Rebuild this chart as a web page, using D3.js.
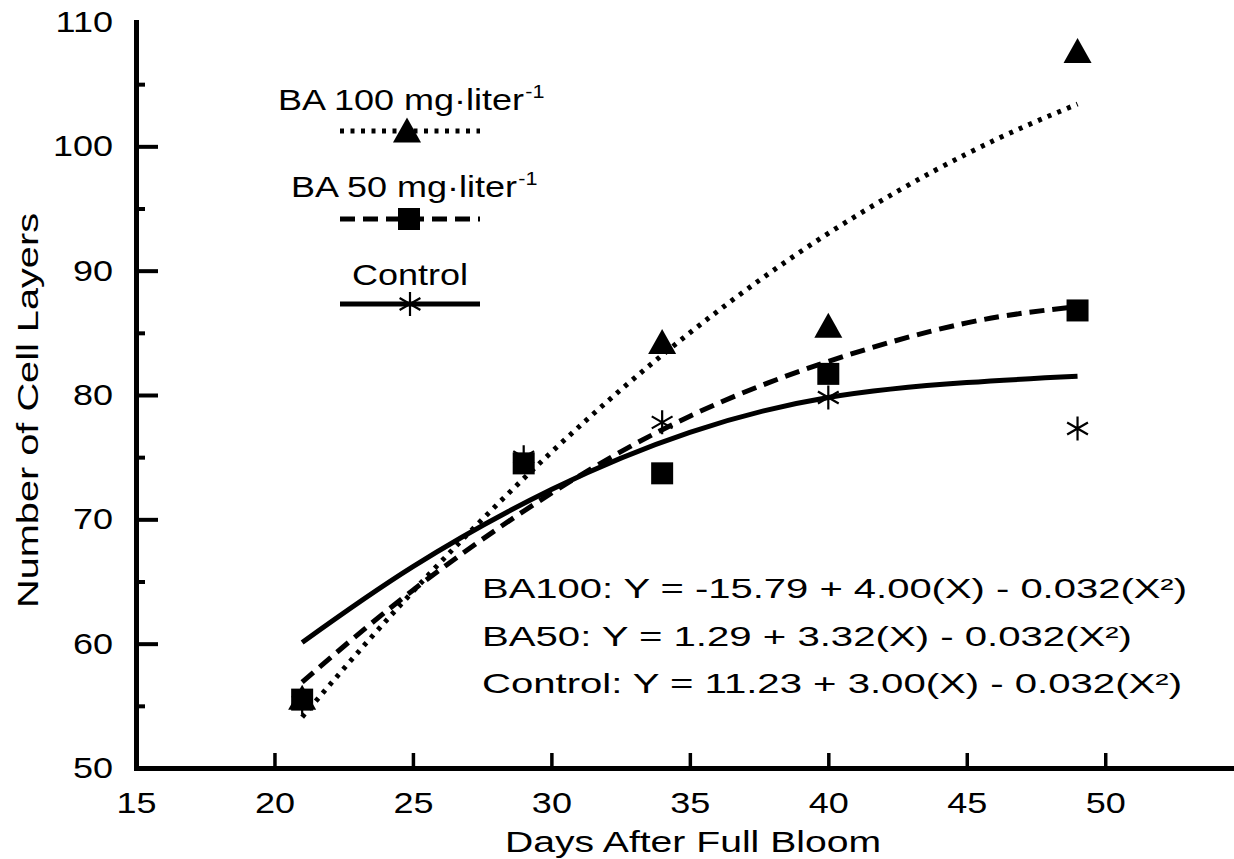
<!DOCTYPE html>
<html>
<head>
<meta charset="utf-8">
<script src="https://cdn.jsdelivr.net/npm/d3@7"></script>
<style>
  body { margin: 0; background: #fff; }
  svg { display: block; font-family: "Liberation Sans", Arial, sans-serif; }
</style>
</head>
<body>
<svg id="chart" width="1234" height="859"></svg>
<script>
// Observed points (days after full bloom, number of cell layers)
const ba100Days = [21, 34, 40, 49];
const ba100Layers = [55.7, 84.3, 85.6, 107.7];
const ba50Days = [21, 29, 34, 40, 49];
const ba50Layers = [55.5, 74.5, 73.7, 81.7, 86.8];
const controlDays = [21, 29, 34, 40, 49];
const controlLayers = [55.3, 75.0, 77.8, 79.8, 77.3];

// Fitted curves
const fitDays = [21, 25, 30, 35, 40, 45, 49];
const ba100Fit = [54.1, 64.2, 75.4, 85.0, 93.0, 99.4, 103.4];
const ba50Fit = [56.9, 64.3, 72.1, 78.3, 82.7, 85.8, 87.1];
const controlFit = [60.1, 66.2, 72.4, 77.0, 79.8, 81.0, 81.5];

// Axis ticks
const xTicks = [20, 25, 30, 35, 40, 45, 50];
const xLabels = [15, 20, 25, 30, 35, 40, 45, 50];
const yMajorTicks = [60, 70, 80, 90, 100];
const yMinorTicks = [55, 65, 75, 85, 95, 105];
const yLabels = [50, 60, 70, 80, 90, 100, 110];

const equations = [
  "BA100: Y = -15.79 + 4.00(X) - 0.032(X²)",
  "BA50: Y = 1.29 + 3.32(X) - 0.032(X²)",
  "Control: Y = 11.23 + 3.00(X) - 0.032(X²)"
];
const equationWidths = [705, 650, 700];

const svg = d3.select("#chart");
const FONT = '"Liberation Sans", Arial, sans-serif';

const x = d3.scaleLinear().domain([15, 54.65]).range([136, 1234]);
const y = d3.scaleLinear().domain([50, 110]).range([768, 22]);

// stretch text horizontally (the original typeface is wide)
function widen(sel, k) {
  sel.each(function () {
    const len = this.getComputedTextLength();
    d3.select(this).attr("textLength", len * k).attr("lengthAdjust", "spacingAndGlyphs");
  });
}

function styleAxis(g, w) {
  g.selectAll("line").attr("stroke", "#000").attr("stroke-width", w);
  g.selectAll(".domain").attr("stroke", "#000").attr("stroke-width", 5)
    .attr("stroke-linecap", "square");
}

// Y axis
const yAxisG = svg.append("g")
  .attr("transform", `translate(${x(15)},0)`)
  .call(d3.axisLeft(y).tickValues(yMajorTicks).tickSize(-22).tickSizeOuter(0).tickFormat(""));
styleAxis(yAxisG, 4);

const yMinorG = svg.append("g")
  .attr("transform", `translate(${x(15)},0)`)
  .call(d3.axisLeft(y).tickValues(yMinorTicks).tickSize(-9).tickFormat(""));
yMinorG.select(".domain").remove();
styleAxis(yMinorG, 4);

const yLabelG = svg.append("g")
  .attr("transform", `translate(${x(15)},0)`)
  .call(d3.axisLeft(y).tickValues(yLabels).tickSize(0).tickPadding(23));
yLabelG.select(".domain").remove();
yLabelG.selectAll("text")
  .style("font-size", "30px").style("font-family", FONT).attr("fill", "#000")
  .call(widen, 1.2);

// X axis
const xAxisG = svg.append("g")
  .attr("transform", `translate(0,${y(50)})`)
  .call(d3.axisBottom(x).tickValues(xTicks).tickSize(-15).tickSizeOuter(0).tickFormat(""));
styleAxis(xAxisG, 3.5);

const xLabelG = svg.append("g")
  .attr("transform", `translate(0,${y(50)})`)
  .call(d3.axisBottom(x).tickValues(xLabels).tickSize(0).tickPadding(24));
xLabelG.select(".domain").remove();
xLabelG.selectAll("text")
  .style("font-size", "30px").style("font-family", FONT).attr("fill", "#000")
  .call(widen, 1.2);

// Axis titles
svg.append("text")
  .attr("x", 505).attr("y", 852)
  .style("font-size", "30px")
  .attr("textLength", 376).attr("lengthAdjust", "spacingAndGlyphs")
  .text("Days After Full Bloom");

svg.append("text")
  .attr("transform", "translate(38,410) rotate(-90)")
  .attr("x", -198).attr("y", 0)
  .style("font-size", "30px")
  .attr("textLength", 395).attr("lengthAdjust", "spacingAndGlyphs")
  .text("Number of Cell Layers");

// Fitted curves
const line = d3.line()
  .x(d => x(d[0]))
  .y(d => y(d[1]))
  .curve(d3.curveNatural);

const curves = [
  { values: ba100Fit, dash: "4 6.5" },
  { values: ba50Fit, dash: "15 8" },
  { values: controlFit, dash: null }
];

svg.selectAll(".fit")
  .data(curves)
  .join("path")
  .attr("class", "fit")
  .attr("d", d => line(d3.zip(fitDays, d.values)))
  .attr("fill", "none")
  .attr("stroke", "#000")
  .attr("stroke-width", 5)
  .attr("stroke-dasharray", d => d.dash);

// Markers
const triPath = "M0,-12.5L14,12.5L-14,12.5Z";
const starPath = "M0,-12V12M-10.4,-6L10.4,6M-10.4,6L10.4,-6";

svg.selectAll(".tri")
  .data(d3.zip(ba100Days, ba100Layers))
  .join("path")
  .attr("class", "tri")
  .attr("d", triPath)
  .attr("transform", d => `translate(${x(d[0])},${y(d[1])})`)
  .attr("fill", "#000");

svg.selectAll(".sq")
  .data(d3.zip(ba50Days, ba50Layers))
  .join("rect")
  .attr("class", "sq")
  .attr("x", d => x(d[0]) - 11)
  .attr("y", d => y(d[1]) - 11)
  .attr("width", 22).attr("height", 22)
  .attr("fill", "#000");

svg.selectAll(".star")
  .data(d3.zip(controlDays, controlLayers))
  .join("path")
  .attr("class", "star")
  .attr("d", starPath)
  .attr("transform", d => `translate(${x(d[0])},${y(d[1])})`)
  .attr("fill", "none")
  .attr("stroke", "#000")
  .attr("stroke-width", 2.2);

// Legend
const legend = svg.append("g");

function legendLabel(tx, ty, main, sup, anchor) {
  const g = legend.append("g").attr("transform", `translate(${tx},${ty}) scale(1.2,1)`);
  const t = g.append("text").style("font-size", "30px").attr("text-anchor", anchor || "start");
  t.append("tspan").text(main);
  if (sup) t.append("tspan").attr("dy", -12).attr("dx", 1).style("font-size", "18px").text(sup);
}

legendLabel(278, 110, "BA 100 mg·liter", "-1");
legendLabel(291, 197, "BA 50 mg·liter", "-1");
legendLabel(410, 285, "Control", null, "middle");

const legendRows = [
  { y: 131, dash: "4 6.5" },
  { y: 219, dash: "15 8" },
  { y: 304, dash: null }
];

legend.selectAll(".lg-line")
  .data(legendRows)
  .join("line")
  .attr("x1", 340).attr("x2", 480)
  .attr("y1", d => d.y).attr("y2", d => d.y)
  .attr("stroke", "#000").attr("stroke-width", 5)
  .attr("stroke-dasharray", d => d.dash);

legend.append("path").attr("d", triPath).attr("transform", "translate(407,130)").attr("fill", "#000");
legend.append("rect").attr("x", 398).attr("y", 208).attr("width", 22).attr("height", 22).attr("fill", "#000");
legend.append("path").attr("d", starPath).attr("transform", "translate(410,304)")
  .attr("fill", "none").attr("stroke", "#000").attr("stroke-width", 2.2);

// Regression equations
svg.selectAll(".eq")
  .data(equations)
  .join("text")
  .attr("class", "eq")
  .attr("x", 482)
  .attr("y", (d, i) => 598 + i * 47.5)
  .style("font-size", "28px")
  .attr("textLength", (d, i) => equationWidths[i])
  .attr("lengthAdjust", "spacingAndGlyphs")
  .text(d => d);
</script>
</body>
</html>
